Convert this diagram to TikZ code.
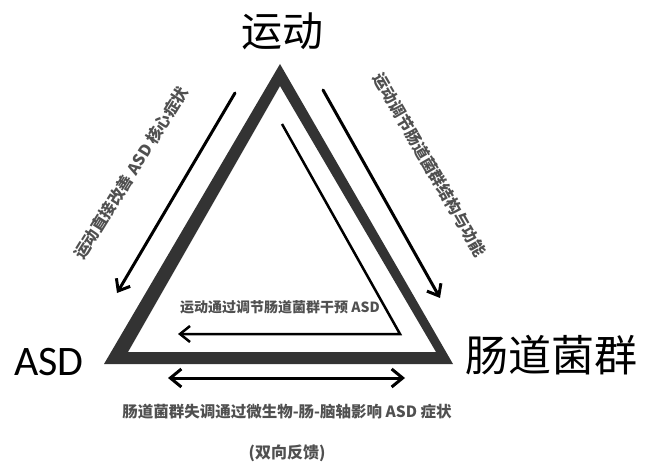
\documentclass[tikz,border=0pt]{standalone}
\usepackage{fontspec}
\newfontfamily\cjk{Noto Sans CJK SC}
\newfontfamily\lat{Carlito}
\usepackage{xcolor}
\definecolor{trigray}{RGB}{51,51,51}
\definecolor{notegray}{RGB}{80,80,80}
\usetikzlibrary{arrows.meta,positioning}

\begin{document}
\begin{tikzpicture}[x=1pt,y=-1pt,
  corner/.style={inner sep=0pt,font=\cjk\fontsize{41}{41}\selectfont},
  note/.style={inner sep=0pt,text=notegray,font=\cjk\bfseries\fontsize{16}{16}\selectfont},
  flow/.style={line width=3pt,line cap=round,-{Straight Barb[length=10pt,width=16pt]}}]
  \useasboundingbox (0,0) rectangle (645,465);
  % Triangle frame
  \fill[trigray,even odd rule] (280,64) -- (104,364) -- (453,364) -- cycle
    (280,86) -- (436,352) -- (128,352) -- cycle;
  % Corner labels
  \node[corner] (sport) at (282,31) {运动};
  \node[corner,font=\lat\fontsize{42}{42}\selectfont] (asd) at (49,362) {ASD};
  \node[corner,font=\cjk\fontsize{43}{43}\selectfont] (gut) at (551,355) {肠道菌群};
  % Direct effect
  \coordinate (l1) at (235,93);
  \coordinate (l2) at (117,293);
  \draw[flow] (l1) -- (l2);
  \node[note,rotate=58] (direct) at (131,173) {运动直接改善 ASD 核心症状};
  % Effect on gut flora
  \coordinate (r1) at (323,90);
  \coordinate (r2) at (440,298);
  \draw[flow] (r1) -- (r2);
  \node[note,rotate=-60] (flora) at (430,165) {运动调节肠道菌群结构与功能};
  % Mediated path
  \coordinate (m1) at (282,124);
  \coordinate (m2) at (400,334);
  \coordinate (m3) at (178,334);
  \draw[flow,line width=2.5pt,line cap=butt] (m1) -- (m2) -- (m3);
  \node[note,font=\cjk\bfseries\fontsize{14}{14}\selectfont] (via) at (280,307) {运动通过调节肠道菌群干预 ASD};
  % Feedback
  \coordinate (b1) at (168,378);
  \coordinate (b2) at (405,378);
  \draw[flow,{Straight Barb[length=11pt,width=18pt]}-{Straight Barb[length=11pt,width=18pt]}] (b1) -- (b2);
  \node[note,font=\cjk\bfseries\fontsize{15.5}{15.5}\selectfont] (axis) at (287,412) {肠道菌群失调通过微生物-肠-脑轴影响 ASD 症状};
  \node[note] (loop) at (287,453) {(双向反馈)};
\end{tikzpicture}
\end{document}
